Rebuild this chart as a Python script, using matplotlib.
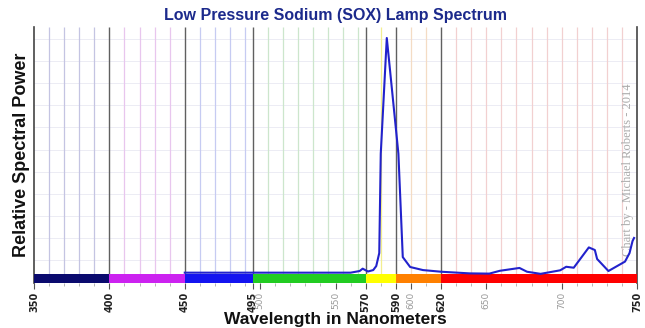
import numpy as np
from matplotlib import pyplot as plt

# spectrum (nm, relative power)
wavelength = [450, 560, 566, 568, 571.5, 575, 577, 579, 580, 584, 591.7, 594.6,
              599.5, 608, 620, 639, 652, 659, 672, 677, 686, 699, 703, 708,
              718, 722, 723.5, 731, 742, 745, 747, 748]
power = [0.6, 0.6, 1.3, 2.3, 1.1, 1.7, 3.4, 8.9, 51, 100, 51, 7.2,
         3.0, 1.7, 1.0, 0.3, 0.2, 1.4, 2.6, 1.0, 0.1, 1.6, 3.1, 2.7,
         11.3, 10.2, 6.4, 1.3, 5.3, 8.9, 14, 15.3]

# colour bands along the bottom
band_edges = [350, 400, 450, 495, 570, 590, 620, 750]
band_colors = ['#0a0a6e', '#cc22f0', '#1414f0', '#22cc22', '#ffff00', '#ff8000', '#ff0000']
grid_colors = ['#c4c4e2', '#e8c6ee', '#c6cbf2', '#cce6cc', '#f2ee90', '#f4dcc4', '#f2d0d0']

major_ticks = [350, 400, 450, 495, 500, 550, 570, 590, 600, 620, 650, 700, 750]
bold_ticks = [350, 400, 450, 495, 570, 590, 620, 750]

y_lo = -3.8
y_hi = 104.7

fig = plt.figure(figsize=(6.45, 3.28), dpi=100)
ax = fig.add_axes([0.0527, 0.137, 0.935, 0.781])
ax.set_xlim(350, 750)
ax.set_ylim(y_lo, y_hi)

# horizontal grid
for y in np.arange(6.0, y_hi, 9.35):
    ax.axhline(y, color='#ececf4', lw=0.7, zorder=0)

# vertical grid every 10 nm, coloured by band
for i in range(len(band_colors)):
    lo = band_edges[i]
    hi = band_edges[i + 1]
    for x in range(lo + 10, hi, 10):
        if x in band_edges:
            continue
        ax.vlines(x, 0, y_hi, color=grid_colors[i], lw=0.9, zorder=1)
for x in band_edges[1:-1]:
    ax.vlines(x, 0, y_hi, color='#606060', lw=1.0, zorder=2)

# colour bar
for i in range(len(band_colors)):
    ax.bar(band_edges[i], 0 - y_lo, width=band_edges[i + 1] - band_edges[i],
           bottom=y_lo, align='edge', color=band_colors[i], lw=0, zorder=3)

ax.plot(wavelength, power, color='#2222cc', lw=1.5, zorder=5)

ax.text(744, 44, 'Chart by - Michael Roberts - 2014', rotation=90,
        family='Liberation Serif', fontsize=9, color='#aaaaaa',
        ha='center', va='center', zorder=4)

ax.spines['top'].set_visible(False)
ax.spines['bottom'].set_visible(False)
for s in ['left', 'right']:
    ax.spines[s].set_color('#444444')
    ax.spines[s].set_linewidth(1.2)

ax.set_yticks([])
ax.set_xticks(major_ticks)
ax.set_xticks(np.arange(350, 751, 10), minor=True)
ax.set_xticklabels([str(t) for t in major_ticks], rotation=90, fontsize=7)
ax.tick_params(axis='x', which='major', length=4, color='#555555', pad=2)
ax.tick_params(axis='x', which='minor', length=2, color='#aaaaaa')
for t, lab in zip(major_ticks, ax.get_xticklabels()):
    if t in bold_ticks:
        lab.set_color('#222222')
        lab.set_fontweight('bold')
    else:
        lab.set_color('#999999')
        lab.set_fontsize(6.5)

ax.set_title('Low Pressure Sodium (SOX) Lamp Spectrum', family='Liberation Sans',
             fontsize=11.5, fontweight='bold', color='#1c2a8c', pad=5)
ax.set_xlabel('Wavelength in Nanometers', family='Liberation Sans',
              fontsize=12.5, fontweight='bold', color='#111111', labelpad=0)
ax.set_ylabel('Relative Spectral Power', family='Liberation Sans',
              fontsize=13, fontweight='bold', color='#111111', labelpad=3)

fig.savefig('out.png', dpi=100)
